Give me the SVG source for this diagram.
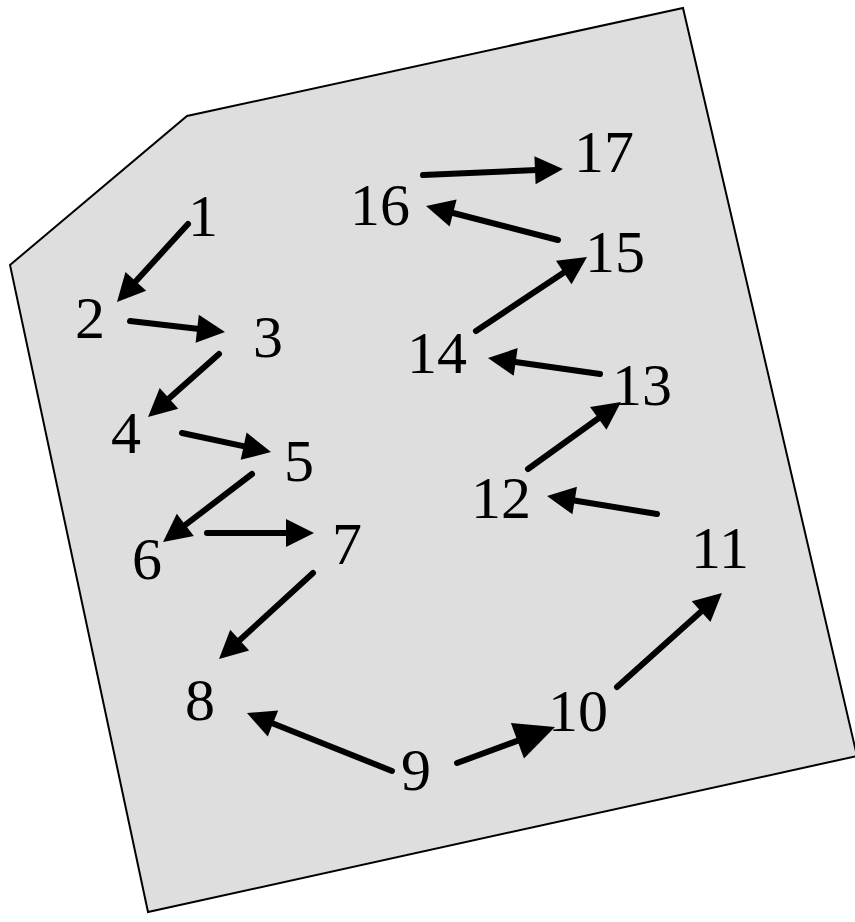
<svg xmlns="http://www.w3.org/2000/svg" width="855" height="922" viewBox="0 0 855 922">
<style>
.lbl{font-family:"Liberation Serif","Times New Roman",serif;font-size:60px;fill:#000;text-anchor:middle}
.edge{stroke:#000;stroke-width:6;stroke-linecap:round;fill:none;marker-end:url(#ah)}
.big{marker-end:url(#ahBig)}
</style>
<defs>
<marker id="ah" markerUnits="userSpaceOnUse" markerWidth="30" markerHeight="30" viewBox="0 -15 30 30" refX="2" refY="0" orient="auto" overflow="visible">
<path d="M0,-14 L28,0 L0,14 z" fill="#000"/>
</marker>
<marker id="ahBig" markerUnits="userSpaceOnUse" markerWidth="44" markerHeight="44" viewBox="0 -22 44 44" refX="2" refY="0" orient="auto" overflow="visible">
<path d="M0,-19 L40,0 L0,19 z" fill="#000"/>
</marker>
</defs>
<polygon id="area" points="10,265 187,116 683,8 857,756 148,912" fill="#dedede" stroke="#000" stroke-width="2"/>
<g id="connectors">
<line class="edge" x1="188" y1="224" x2="134.5" y2="282.8"/>
<line class="edge" x1="130" y1="321" x2="199.2" y2="329"/>
<line class="edge" x1="219" y1="354" x2="167.5" y2="399.7"/>
<line class="edge" x1="182" y1="433" x2="245.6" y2="446.6"/>
<line class="edge" x1="252" y1="474" x2="183.7" y2="526.2"/>
<line class="edge" x1="207" y1="533" x2="288" y2="533"/>
<line class="edge" x1="313" y1="573" x2="238.2" y2="641.5"/>
<line class="edge" x1="392" y1="771" x2="271.1" y2="722.7"/>
<line class="edge big" x1="457" y1="763" x2="519.3" y2="740.1"/>
<line class="edge" x1="617" y1="687" x2="702.6" y2="610.3"/>
<line class="edge" x1="657" y1="514" x2="572.7" y2="500.2"/>
<line class="edge" x1="528" y1="469" x2="599.9" y2="417.2"/>
<line class="edge" x1="600" y1="374" x2="513.7" y2="361.7"/>
<line class="edge" x1="476" y1="331" x2="565.4" y2="271.4"/>
<line class="edge" x1="558" y1="240" x2="451.2" y2="212.5"/>
<line class="edge" x1="423" y1="175" x2="537" y2="170.1"/>
</g>
<g id="n1"><text class="lbl" x="203" y="236">1</text></g>
<g id="n2"><text class="lbl" x="90" y="338">2</text></g>
<g id="n3"><text class="lbl" x="268" y="357">3</text></g>
<g id="n4"><text class="lbl" x="126" y="453">4</text></g>
<g id="n5"><text class="lbl" x="299" y="481">5</text></g>
<g id="n6"><text class="lbl" x="147" y="579">6</text></g>
<g id="n7"><text class="lbl" x="347" y="564">7</text></g>
<g id="n8"><text class="lbl" x="200" y="720">8</text></g>
<g id="n9"><text class="lbl" x="416" y="790">9</text></g>
<g id="n10"><text class="lbl" x="578" y="731">10</text></g>
<g id="n11"><text class="lbl" x="720" y="568">11</text></g>
<g id="n12"><text class="lbl" x="501" y="518">12</text></g>
<g id="n13"><text class="lbl" x="642" y="405">13</text></g>
<g id="n14"><text class="lbl" x="437" y="373">14</text></g>
<g id="n15"><text class="lbl" x="615" y="272">15</text></g>
<g id="n16"><text class="lbl" x="380" y="225">16</text></g>
<g id="n17"><text class="lbl" x="604" y="172">17</text></g>
</svg>
